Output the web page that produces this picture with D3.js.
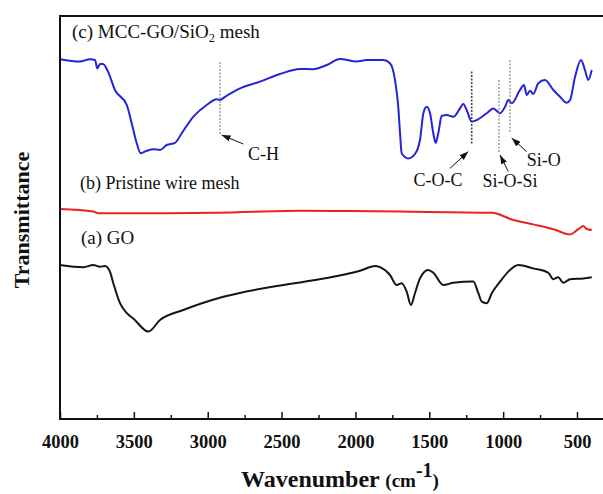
<!DOCTYPE html>
<html><head><meta charset="utf-8">
<script src="https://cdn.jsdelivr.net/npm/d3@7/dist/d3.min.js"></script>
<style>body{margin:0;background:#fff}svg{display:block}</style>
</head><body>
<svg id="c" width="603" height="494"></svg>
<script>
// ---- data (wavenumber cm-1, transmittance a.u.) ----
const mccWn = [4000,3865,3797,3763,3747,3729,3709,3675,3628,3548,3515,3481,3454,3413,3368,3323,3278,3221,3176,3098,3007,2939,2917,2883,2781,2646,2511,2375,2287,2194,2104,1991,1924,1811,1766,1732,1710,1698,1687,1642,1597,1563,1540,1518,1495,1473,1457,1439,1416,1382,1337,1292,1270,1247,1213,1179,1111,1067,1021,987,965,942,886,859,840,818,796,762,717,660,615,570,547,513,473,446,424,400];
const mccT  = [89.2,88.6,89.2,89,86.9,88,88,86.1,81.5,77.75,73.25,68.25,65.7,66.3,66.7,66.5,67.75,68.3,70.7,74.8,77.75,79.2,79,79.8,81.9,83.6,85.5,86.75,86.7,87.75,89.25,88.6,89,89,88.2,84,77.3,70.7,65.7,64.4,65.5,69,75.7,77.3,75.7,70.7,68.3,70.7,75,75.25,74.8,76.9,78,76.5,73.6,74,75.7,76.9,75.7,77.3,79,78.2,81.5,82.75,80.25,81.3,80.5,83.2,84,81.5,79.8,78.3,79,84.8,89,86.5,84,86.5];

const meshWn = [4000,3775,3741,3707,3391,2939,2375,2037,1698,1077,931,796,660,547,491,457,434,400];
const meshT  = [51.75,51.1,50.7,50.7,50.7,50.8,51.3,51.25,51.1,50.8,49,47.9,46.7,45.4,46.7,47.5,46.75,46.5];

const goWn = [4000,3842,3775,3729,3695,3662,3639,3594,3548,3504,3402,3323,3165,2894,2488,2375,2150,1969,1867,1834,1766,1721,1687,1653,1624,1597,1563,1507,1473,1405,1337,1202,1168,1145,1111,1077,1021,965,897,796,694,660,627,593,547,457,400];
const goT  = [37.75,37.2,37.75,37.3,37.5,36.1,33.2,28.2,25.7,24.4,21.1,24,26.5,29.8,32.75,33.4,34.8,36.3,37.5,37.2,35.25,32.75,33.2,31.1,27.75,30.7,34.4,36.5,35.8,32.75,33.3,33.6,30.7,28.6,28.2,30.7,33.6,36.1,37.75,36.9,35.8,34.2,34.7,33.3,34.2,34.4,34.7];

const xTicks = [4000,3500,3000,2500,2000,1500,1000,500];
const xMinorTicks = [3750,3250,2750,2250,1750,1250,750];

// annotations: label, marker wavenumber, marker top/bottom T, arrow head/tail (wn,T), label (wn,T, anchor)
const annLabels = ["C-H","C-O-C","Si-O-Si","Si-O"];
const annWn     = [2917,1213,1028,954];
const annTop    = [88.5,86.1,84,89];
const annBot    = [70.25,67.75,65.75,70.75];
const annHead   = [[2906,70.25],[1236,66.1],[1021,65.25],[942,69.5]];
const annTail   = [[2759,68],[1360,61.9],[965,61.1],[841,66.1]];
const annText   = [[2727,64,"start"],[1441,57.5,"middle"],[954,57.25,"middle"],[841,62.5,"start"]];

const seriesLabels = ["(c) MCC-GO/SiO","(b) Pristine wire mesh","(a) GO"];

// ---- layout ----
const svg = d3.select("#c");
const L = 60, T = 16, B = 419, R = 603;
const x = d3.scaleLinear().domain([4000,500]).range([L,577]);
const y = d3.scaleLinear().domain([0,100]).range([416,16]);
const serif = "'Liberation Serif','Times New Roman',serif";

svg.append("defs").append("marker").attr("id","ah").attr("viewBox","0 0 10 10")
  .attr("refX",10).attr("refY",5).attr("markerWidth",9).attr("markerHeight",9)
  .attr("markerUnits","userSpaceOnUse").attr("orient","auto")
  .append("path").attr("d","M0,1.5 L10,5 L0,8.5 Z").attr("fill","#111");

// curves
const line = d3.line().x(d=>x(d[0])).y(d=>y(d[1])).curve(d3.curveMonotoneX);
const series = [
  {wn:goWn,t:goT,color:"#151515"},
  {wn:meshWn,t:meshT,color:"#e8231f"},
  {wn:mccWn,t:mccT,color:"#2424d8"}
];
series.forEach(s=>{
  const pts = s.wn.map((w,i)=>[w,s.t[i]]);
  svg.append("path").attr("d",line(pts)).attr("fill","none")
    .attr("stroke",s.color).attr("stroke-width",2).attr("stroke-linejoin","round");
});

// annotation markers
annLabels.forEach((lab,i)=>{
  svg.append("line").attr("x1",x(annWn[i])).attr("x2",x(annWn[i]))
    .attr("y1",y(annTop[i])).attr("y2",y(annBot[i]))
    .attr("stroke",i===1?"#444":"#888").attr("stroke-width",i===1?1.6:1.2).attr("stroke-dasharray","2,1.5");
  svg.append("line").attr("x1",x(annTail[i][0])).attr("y1",y(annTail[i][1]))
    .attr("x2",x(annHead[i][0])).attr("y2",y(annHead[i][1]))
    .attr("stroke","#111").attr("stroke-width",1).attr("marker-end","url(#ah)");
  svg.append("text").attr("x",x(annText[i][0])).attr("y",y(annText[i][1]))
    .attr("text-anchor",annText[i][2]).attr("font-family",serif).attr("font-size",18)
    .attr("fill","#111").text(lab);
});

// series labels
const lc = svg.append("text").attr("x",72).attr("y",38).attr("font-family",serif).attr("font-size",19).attr("fill","#111");
lc.append("tspan").text(seriesLabels[0]);
lc.append("tspan").attr("font-size",12.5).attr("dy",4).text("2");
lc.append("tspan").attr("dy",-4).text(" mesh");
svg.append("text").attr("x",80).attr("y",189).attr("font-family",serif).attr("font-size",18).attr("fill","#111").text(seriesLabels[1]);
svg.append("text").attr("x",81).attr("y",244).attr("font-family",serif).attr("font-size",19).attr("fill","#111").text(seriesLabels[2]);

// frame
svg.append("path").attr("d",`M${R},${T} H${L} V${B} H${R}`).attr("fill","none")
  .attr("stroke","#111").attr("stroke-width",2);

// x axis
const ax = svg.append("g").attr("transform",`translate(0,${B})`)
  .call(d3.axisBottom(x).tickValues(xTicks).tickSize(-7).tickPadding(16).tickFormat(d3.format("d")));
ax.select(".domain").remove();
ax.selectAll(".tick line").attr("stroke","#111").attr("stroke-width",1.5);
ax.selectAll(".tick text").attr("font-family",serif).attr("font-size",18.5).attr("font-weight","bold").attr("fill","#111");
const axm = svg.append("g").attr("transform",`translate(0,${B})`)
  .call(d3.axisBottom(x).tickValues(xMinorTicks).tickSize(-4).tickFormat(""));
axm.select(".domain").remove();
axm.selectAll(".tick line").attr("stroke","#111").attr("stroke-width",1.5);

// axis titles
const xt = svg.append("text").attr("x",340).attr("y",487).attr("text-anchor","middle")
  .attr("font-family",serif).attr("font-weight","bold").attr("fill","#111");
xt.append("tspan").attr("font-size",24).text("Wavenumber ");
xt.append("tspan").attr("font-size",19).text("(cm");
xt.append("tspan").attr("font-size",20).attr("dy",-10).text("-1");
xt.append("tspan").attr("font-size",19).attr("dy",10).text(")");

svg.append("text").attr("transform","translate(29,220) rotate(-90)").attr("text-anchor","middle")
  .attr("font-family",serif).attr("font-weight","bold").attr("font-size",22).attr("fill","#111")
  .text("Transmittance");
</script>
</body></html>
